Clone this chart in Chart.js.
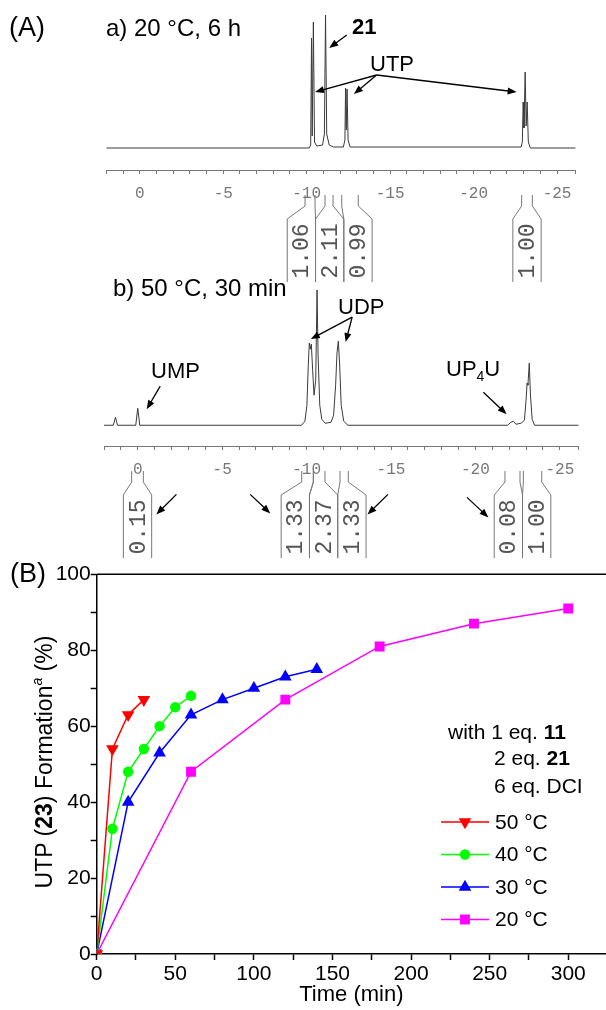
<!DOCTYPE html>
<html>
<head>
<meta charset="utf-8">
<script src="https://cdn.jsdelivr.net/npm/chart.js@4.4.1/dist/chart.umd.min.js"></script>
<style>
  body { margin: 0; background: #fff; }
  #page { position: relative; width: 606px; height: 1010px; overflow: hidden; background: #fff;
          font-family: 'Liberation Sans', Arial, sans-serif; color: #000; }
  #page canvas { position: absolute; left: 0; }
  .lbl { position: absolute; white-space: nowrap; line-height: 1; font-size: 22px; }
  .lbl sub { font-size: 14px; vertical-align: -5px; line-height: 0; }
  .head { font-size: 24px; }
  .panel { font-size: 27px; }
  .ytitle { left: 44px; top: 762px; font-size: 23px; transform: translate(-50%, -50%) rotate(-90deg); }
  .ytitle sup { font-size: 14px; vertical-align: 10px; line-height: 0; font-style: italic; }
  .leg { font-size: 21px; }
</style>
</head>
<body>
<div id="page">
  <canvas id="specA" width="606" height="290" style="top:0"></canvas>
  <canvas id="specB" width="606" height="286" style="top:280px"></canvas>
  <canvas id="kinetics" width="606" height="470" style="top:540px"></canvas>

  <div class="lbl panel" style="left:9px; top:14px">(A)</div>
  <div class="lbl head" style="left:106px; top:16px">a) 20 °C, 6 h</div>
  <div class="lbl" style="left:352px; top:16px"><b>21</b></div>
  <div class="lbl" style="left:370px; top:53px">UTP</div>
  <div class="lbl head" style="left:113px; top:276px">b) 50 °C, 30 min</div>
  <div class="lbl" style="left:338px; top:296px">UDP</div>
  <div class="lbl" style="left:151px; top:360px">UMP</div>
  <div class="lbl" style="left:446px; top:358px">UP<sub>4</sub>U</div>

  <div class="lbl panel" style="left:10px; top:560px">(B)</div>
  <div class="lbl ytitle">UTP (<b>23</b>) Formation<sup>a</sup> (%)</div>
  <div class="lbl leg" style="left:448px; top:721px">with 1 eq. <b>11</b></div>
  <div class="lbl leg" style="left:494px; top:747px">2 eq. <b>21</b></div>
  <div class="lbl leg" style="left:494px; top:775px">6 eq. DCI</div>
</div>

<script>
Chart.defaults.font.family = "'Liberation Sans', Arial, sans-serif";

// ---- (A) 31P NMR spectra: chemical shift (ppm) and intensity ----
const specAppm = [2.0, -10.15, -10.24, -10.29, -10.33, -10.36, -10.40, -10.47, -10.6, -10.95, -11.06, -11.13, -11.20, -11.35, -11.6,
                  -12.2, -12.29, -12.33, -12.37, -12.42, -12.48, -12.6, -22.85, -22.92, -22.97, -23.02, -23.09, -23.15, -23.21, -23.28, -23.4, -26.1];
const specAint = [0, 0, 3, 110, 12, 12, 126, 6, 2, 3, 14, 133, 14, 3, 1,
                  1, 8, 60, 18, 59, 8, 1, 1, 6, 46, 20, 76, 22, 46, 6, 0, 0];

const specBppm = [2.0, 1.45, 1.32, 1.2, 0.12, 0.0, -0.12, -9.7, -9.9, -10.02, -10.1, -10.16, -10.22, -10.28, -10.36, -10.44, -10.54, -10.62,
                  -10.68, -10.78, -10.9, -11.1, -11.45, -11.6, -11.72, -11.8, -11.88, -11.96, -12.05, -12.2, -12.45,
                  -21.9, -22.1, -22.25, -22.4, -22.7, -22.9, -23.0, -23.06, -23.11, -23.19, -23.26, -23.36, -23.5, -26.1];
const specBint = [0, 0, 8, 0, 0, 17, 0, 0, 4, 20, 60, 82, 76, 81, 55, 30, 45, 135,
                  70, 20, 6, 2, 3, 10, 40, 72, 84, 60, 20, 4, 0,
                  0, 3, 4, 1, 2, 5, 25, 42, 40, 62, 30, 6, 0, 0];

// integrals: start ppm, end ppm, value
const intAfrom = [-9.9, -11.1, -12.1, -22.88];
const intAto   = [-10.5, -11.58, -13.09, -23.52];
const intAval  = ['1.06', '2.11', '0.99', '1.00'];

const intBfrom = [0.36, -9.71, -10.40, -11.98, -21.75, -22.84];
const intBto   = [-0.33, -10.40, -11.09, -12.47, -22.64, -23.93];
const intBval  = ['0.15', '1.33', '2.37', '1.33', '0.08', '1.00'];

// annotation arrows [fromPpm, fromInt, toPpm, toInt]
const arrowsA = [
  [-12.40, 113, -11.35, 100],
  [-14.19, 73, -10.50, 56],
  [-14.19, 73, -12.83, 54],
  [-14.19, 73, -22.58, 56]
];
const arrowsB = [
  [-12.70, 108, -10.25, 86],
  [-12.70, 108, -12.31, 83],
  [-1.33, 39, -0.53, 16],
  [-20.47, 33, -21.85, 11],
  [-2.29, -69, -1.10, -89],
  [-6.66, -69, -7.85, -88],
  [-14.82, -69, -13.61, -89],
  [-19.50, -72, -20.77, -92]
];

// ---- (B) UTP formation vs time ----
const times50 = [0, 10, 20, 30];
const form50  = [0, 54, 63, 67];
const times40 = [0, 10, 20, 30, 40, 50, 60];
const form40  = [0, 33, 48, 54, 60, 65, 68];
const times30 = [0, 20, 40, 60, 80, 100, 120, 140];
const form30  = [0, 40, 53, 63, 67, 70, 73, 75];
const times20 = [0, 60, 120, 180, 240, 300];
const form20  = [0, 48, 67, 81, 87, 91];
const tempLabels = ['50 °C', '40 °C', '30 °C', '20 °C'];

const monoFont = "'Liberation Mono', 'DejaVu Sans Mono', monospace";

function drawArrow(ctx, x1, y1, x2, y2) {
  const a = Math.atan2(y2 - y1, x2 - x1);
  const len = 9, half = 3.5;
  ctx.beginPath();
  ctx.moveTo(x1, y1);
  ctx.lineTo(x2 - Math.cos(a) * len * 0.7, y2 - Math.sin(a) * len * 0.7);
  ctx.stroke();
  ctx.beginPath();
  ctx.moveTo(x2, y2);
  ctx.lineTo(x2 - len * Math.cos(a) + half * Math.sin(a), y2 - len * Math.sin(a) - half * Math.cos(a));
  ctx.lineTo(x2 - len * Math.cos(a) - half * Math.sin(a), y2 - len * Math.sin(a) + half * Math.cos(a));
  ctx.closePath();
  ctx.fill();
}

// arrows + integral brackets under the ppm axis
function notesPlugin(arrows, from, to, vals) {
  return {
    id: 'notes',
    afterDatasetsDraw(chart) {
      const { ctx, chartArea } = chart;
      const sx = chart.scales.x, sy = chart.scales.y;
      const axisY = chartArea.bottom;
      ctx.save();
      ctx.strokeStyle = '#000';
      ctx.fillStyle = '#000';
      ctx.lineWidth = 1.3;
      arrows.forEach(a => drawArrow(ctx, sx.getPixelForValue(a[0]), sy.getPixelForValue(a[1]),
                                         sx.getPixelForValue(a[2]), sy.getPixelForValue(a[3])));

      const W = 28.3;
      const items = from.map((f, i) => {
        const p1 = sx.getPixelForValue(f), p2 = sx.getPixelForValue(to[i]);
        return { l: Math.min(p1, p2), r: Math.max(p1, p2), text: vals[i] };
      }).sort((a, b) => a.l - b.l);

      // group labels that would overlap, then lay them side by side
      const groups = [];
      items.forEach(it => {
        const c = (it.l + it.r) / 2;
        const g = groups[groups.length - 1];
        if (g && c - g.lastC < W) { g.items.push(it); g.lastC = c; }
        else groups.push({ items: [it], lastC: c });
      });

      ctx.strokeStyle = '#777';
      ctx.lineWidth = 1;
      ctx.fillStyle = '#555';
      ctx.font = '23px ' + monoFont;
      ctx.textAlign = 'center';
      ctx.textBaseline = 'middle';
      groups.forEach(g => {
        const m = g.items.reduce((s, it) => s + (it.l + it.r) / 2, 0) / g.items.length;
        const start = m - g.items.length * W / 2;
        g.items.forEach((it, k) => {
          const bl = start + k * W, br = bl + W;
          ctx.beginPath();
          ctx.moveTo(it.l, axisY + 25); ctx.lineTo(it.l, axisY + 36);
          ctx.lineTo(bl, axisY + 49); ctx.lineTo(bl, axisY + 112);
          ctx.moveTo(it.r, axisY + 25); ctx.lineTo(it.r, axisY + 36);
          ctx.lineTo(br, axisY + 49); ctx.lineTo(br, axisY + 112);
          ctx.stroke();
          ctx.save();
          ctx.translate(bl + W / 2, axisY + 81);
          ctx.rotate(-Math.PI / 2);
          ctx.fillText(it.text, 0, 1);
          ctx.restore();
        });
      });
      ctx.restore();
    }
  };
}

function makeSpectrum(id, ppm, inten, cfg, plugin) {
  return new Chart(document.getElementById(id), {
    type: 'line',
    data: {
      datasets: [{
        data: ppm.map((x, i) => ({ x, y: inten[i] })),
        borderColor: '#3a3a3a',
        borderWidth: 1,
        pointRadius: 0,
        tension: 0,
        clip: false
      }]
    },
    options: {
      responsive: false,
      animation: false,
      events: [],
      layout: { autoPadding: false, padding: { left: cfg.left, right: cfg.right, top: cfg.top, bottom: 0 } },
      plugins: { legend: { display: false }, tooltip: { enabled: false } },
      scales: {
        x: {
          type: 'linear', reverse: true, min: -26.1, max: 2.0,
          border: { color: '#777', width: 1 },
          grid: { drawOnChartArea: false, tickLength: 4, tickColor: '#777' },
          ticks: {
            stepSize: 1, autoSkip: false, maxRotation: 0, padding: 10, color: '#777',
            font: { family: monoFont, size: 16 },
            callback: v => (v % 5 === 0 ? String(v) : '')
          },
          afterFit: s => { s.height = 120; }
        },
        y: { display: false, min: cfg.yMin, max: cfg.yMax }
      }
    },
    plugins: [plugin]
  });
}

makeSpectrum('specA', specAppm, specAint, { left: 106.4, right: 30.6, top: 12, yMin: -22, yMax: 136 },
  notesPlugin(arrowsA, intAfrom, intAto, intAval));
makeSpectrum('specB', specBppm, specBint, { left: 104, right: 27.6, top: 8, yMin: -20.7, yMax: 137 },
  notesPlugin(arrowsB, intBfrom, intBto, intBval));

// ---- (B) kinetics chart ----
function drawMarker(ctx, style, r, rot, x, y) {
  ctx.beginPath();
  if (style === 'circle') {
    ctx.arc(x, y, r, 0, Math.PI * 2);
  } else if (style === 'rect') {
    const s = Math.SQRT1_2 * r;
    ctx.rect(x - s, y - s, 2 * s, 2 * s);
  } else {
    let rad = rot * Math.PI / 180;
    ctx.moveTo(x + Math.sin(rad) * r, y - Math.cos(rad) * r);
    rad += 2 * Math.PI / 3;
    ctx.lineTo(x + Math.sin(rad) * r, y - Math.cos(rad) * r);
    rad += 2 * Math.PI / 3;
    ctx.lineTo(x + Math.sin(rad) * r, y - Math.cos(rad) * r);
    ctx.closePath();
  }
  ctx.fill();
}

// top frame line (right edge of the box falls outside the picture)
const framePlugin = {
  id: 'frame',
  afterDraw(chart) {
    const { ctx, chartArea } = chart;
    ctx.save();
    ctx.strokeStyle = '#000';
    ctx.lineWidth = 1.5;
    ctx.beginPath();
    ctx.moveTo(chartArea.left, chartArea.top);
    ctx.lineTo(chartArea.right, chartArea.top);
    ctx.stroke();
    ctx.restore();
  }
};

const legendPlugin = {
  id: 'sideLegend',
  afterDraw(chart) {
    const ctx = chart.ctx;
    ctx.save();
    chart.data.datasets.forEach((ds, i) => {
      const y = 282 + i * 32.5;
      ctx.strokeStyle = ds.borderColor;
      ctx.lineWidth = 1.5;
      ctx.beginPath();
      ctx.moveTo(441, y);
      ctx.lineTo(489, y);
      ctx.stroke();
      ctx.fillStyle = ds.backgroundColor;
      drawMarker(ctx, ds.pointStyle, ds.pointRadius, ds.pointRotation || 0, 465, y);
      ctx.fillStyle = '#000';
      ctx.font = "21px 'Liberation Sans', Arial, sans-serif";
      ctx.textBaseline = 'middle';
      ctx.textAlign = 'left';
      ctx.fillText(ds.label, 495, y + 1);
    });
    ctx.restore();
  }
};

function series(label, xs, ys, color, style, radius, rotation) {
  return {
    label,
    data: xs.map((x, i) => ({ x, y: ys[i] })),
    borderColor: color,
    backgroundColor: color,
    borderWidth: 1.5,
    pointStyle: style,
    pointRadius: radius,
    pointRotation: rotation,
    pointBorderWidth: 0,
    pointBackgroundColor: color,
    tension: 0,
    clip: 0
  };
}

new Chart(document.getElementById('kinetics'), {
  type: 'line',
  data: {
    datasets: [
      series(tempLabels[0], times50, form50, '#ff0000', 'triangle', 7.3, 180),
      series(tempLabels[1], times40, form40, '#00ff00', 'circle', 5.2, 0),
      series(tempLabels[2], times30, form30, '#0000ff', 'triangle', 7.3, 0),
      series(tempLabels[3], times20, form20, '#ff00ff', 'rect', 7, 0)
    ]
  },
  options: {
    responsive: false,
    animation: false,
    events: [],
    layout: { autoPadding: false, padding: { left: 0, right: 0, top: 34.3, bottom: 0 } },
    plugins: { legend: { display: false }, tooltip: { enabled: false } },
    scales: {
      x: {
        type: 'linear', min: 0, max: 324,
        border: { color: '#000', width: 1.5 },
        grid: { drawOnChartArea: false, tickLength: 6, tickColor: '#000', tickWidth: 1.5 },
        ticks: {
          stepSize: 25, autoSkip: false, maxRotation: 0, padding: 2, color: '#000', includeBounds: false,
          font: { size: 21 },
          callback: v => (v % 50 === 0 ? String(v) : '')
        },
        title: { display: true, text: 'Time (min)', color: '#000', font: { size: 22 }, padding: { top: 0, bottom: 2 } },
        afterFit: s => { s.height = 56; }
      },
      y: {
        min: 0, max: 100,
        border: { color: '#000', width: 1.5 },
        grid: { drawOnChartArea: false, tickLength: 6, tickColor: '#000', tickWidth: 1.5 },
        ticks: {
          stepSize: 10, autoSkip: false, padding: 0, color: '#000',
          font: { size: 21 },
          callback: v => (v % 20 === 0 ? String(v) : '')
        },
        afterFit: s => { s.width = 96.7; }
      }
    }
  },
  plugins: [framePlugin, legendPlugin]
});
</script>
</body>
</html>
